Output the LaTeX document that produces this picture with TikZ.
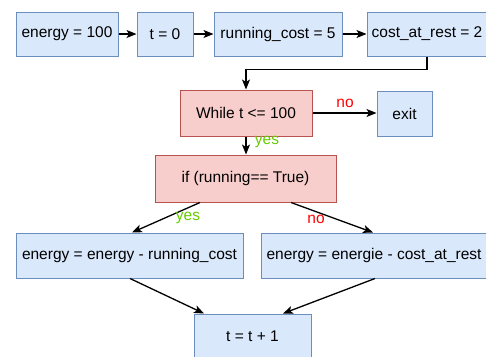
\documentclass[tikz,border=0pt]{standalone}
\usepackage{fontspec}
\setmainfont{Liberation Sans}
\usetikzlibrary{arrows.meta}
\definecolor{bfill}{HTML}{DAE8FC}
\definecolor{bdraw}{HTML}{6C8EBF}
\definecolor{rfill}{HTML}{F8CECC}
\definecolor{rdraw}{HTML}{B85450}
\definecolor{yesgreen}{HTML}{66CC00}
\definecolor{nored}{HTML}{FF0000}
\tikzset{
  box/.style={draw, line width=1pt, inner sep=0pt, font=\fontsize{15.5}{18}\selectfont, text=black},
  bluebox/.style={box, fill=bfill, draw=bdraw},
  redbox/.style={box, fill=rfill, draw=rdraw},
  conn/.style={line width=1.3pt, -{Stealth[length=10pt,width=8pt,inset=2.5pt]}},
  lbl/.style={font=\fontsize{15.5}{18}\selectfont, inner sep=0pt},
}
\begin{document}
\begin{tikzpicture}[x=1pt,y=-1pt]
\useasboundingbox (0,0) rectangle (486,356);
\clip (0,0) rectangle (486,356);
\fill[white] (0,0) rectangle (486,356);
\node[bluebox, minimum width=102pt, minimum height=44pt] (e100) at (67,34) {energy = 100};
\node[bluebox, minimum width=56pt, minimum height=44pt] (t0) at (165,34) {t = 0};
\node[bluebox, minimum width=128pt, minimum height=44pt] (rc) at (278,34) {running\_cost = 5};
\node[bluebox, minimum width=120pt, minimum height=44pt] (car) at (427,34) {cost\_at\_rest = 2};
\node[redbox, minimum width=132pt, minimum height=46pt] (wh) at (246,113) {While t <= 100};
\node[bluebox, minimum width=55pt, minimum height=45pt] (exit) at (404.5,113.5) {exit};
\node[redbox, minimum width=181pt, minimum height=47pt] (if) at (245.5,178.5) {if (running== True)};
\node[bluebox, minimum width=227pt, minimum height=45pt] (lb) at (129.5,255.5) {energy = energy - running\_cost};
\node[bluebox, minimum width=226pt, minimum height=45pt] (rb) at (374,255.5) {energy = energie - cost\_at\_rest};
\node[bluebox, minimum width=117pt, minimum height=44pt] (tt) at (252.5,336) {t = t + 1};
\draw[conn] (e100.east) -- (t0.west);
\draw[conn] (t0.east) -- (rc.west);
\draw[conn] (rc.east) -- (car.west);
\draw[conn] (car.south) -- ++(0,13) -| (wh.north);
\draw[conn] (wh.east) -- (wh.east -| exit.west);
\node[lbl, text=nored] (no1) at (345,103) {no};
\draw[conn] (wh.south) -- (wh.south |- if.north);
\node[lbl, text=yesgreen] (yes1) at (267,142) {yes};
\draw[conn] ([xshift=-45.5pt]if.south) -- ([xshift=2.5pt]lb.north);
\node[lbl, text=yesgreen] (yes2) at (188,218) {yes};
\draw[conn] ([xshift=45.5pt]if.south) -- ([xshift=-1pt]rb.north);
\node[lbl, text=nored] (no2) at (316,219) {no};
\draw[conn] ([xshift=0.5pt]lb.south) -- ([xshift=-48.5pt]tt.north);
\draw[conn] ([xshift=1pt]rb.south) -- ([xshift=30.5pt]tt.north);
\end{tikzpicture}
\end{document}
